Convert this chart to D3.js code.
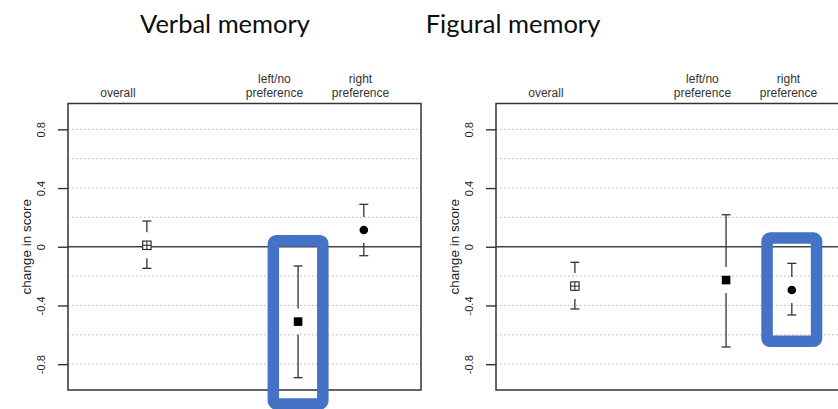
<!DOCTYPE html>
<html>
<head>
<meta charset="utf-8">
<script src="https://cdn.jsdelivr.net/npm/d3@7"></script>
<style>
  html, body { margin: 0; padding: 0; background: #fff; }
  svg { display: block; }
</style>
</head>
<body>
<svg id="chart" width="838" height="409"></svg>
<script>
// Panel titles and group labels
const panelTitles = ["Verbal memory", "Figural memory"];
const groupLines = [["overall"], ["left/no", "preference"], ["right", "preference"]];
const groupX = [1, 3.3, 4.3];          // x positions of the three groups
const groupLabelX = [0.56, 2.94, 4.25]; // x positions of the group captions
const markerShapes = ["boxplus", "square", "circle"];

// Mean change in score with confidence limits
const verbalMean  = [0.01, -0.51, 0.114];
const verbalLower = [-0.147, -0.892, -0.061];
const verbalUpper = [0.175, -0.131, 0.289];

const figuralMean  = [-0.268, -0.227, -0.295];
const figuralLower = [-0.424, -0.683, -0.465];
const figuralUpper = [-0.106, 0.218, -0.113];

// Group picked out with a frame in each panel
const highlighted = [1, 2];

const yTickValues = [-0.8, -0.4, 0, 0.4, 0.8];
const yTickLabels = ["-0.8", "-0.4", "0", "0.4", "0.8"];
const gridValues = [-0.8, -0.6, -0.4, -0.2, 0.2, 0.4, 0.6, 0.8];
const yLabel = "change in score";

const svg = d3.select("#chart");
svg.append("rect").attr("width", 838).attr("height", 409).attr("fill", "#fff");

const panels = [
  { title: panelTitles[0], mean: verbalMean, lo: verbalLower, hi: verbalUpper, hl: highlighted[0], left: 68, titleX: 225 },
  { title: panelTitles[1], mean: figuralMean, lo: figuralLower, hi: figuralUpper, hl: highlighted[1], left: 496, titleX: 513 }
];

const boxW = 353, boxTop = 103.5, boxBottom = 390;
const ink = "#333";
const gapPx = 13, capHalf = 4.5;

panels.forEach(p => {
  const x = d3.scaleLinear().domain([-0.2, 5.17]).range([p.left, p.left + boxW]);
  const y = d3.scaleLinear().domain([-0.976, 0.976]).range([boxBottom, boxTop]);
  const g = svg.append("g");

  // title
  svg.append("text")
    .attr("x", p.titleX).attr("y", 33)
    .attr("text-anchor", "middle")
    .attr("font-family", "Lato, 'Open Sans', sans-serif")
    .attr("font-size", 25.5)
    .attr("fill", "#0d0d0d")
    .text(p.title);

  // dotted grid
  g.selectAll("line.grid").data(gridValues).join("line")
    .attr("x1", p.left).attr("x2", p.left + boxW)
    .attr("y1", d => y(d)).attr("y2", d => y(d))
    .attr("stroke", "#b5b5b5").attr("stroke-width", 1)
    .attr("stroke-dasharray", "1.5,2.5");

  // zero reference line
  g.append("line")
    .attr("x1", p.left).attr("x2", p.left + boxW)
    .attr("y1", y(0)).attr("y2", y(0))
    .attr("stroke", "#444").attr("stroke-width", 1.3);

  // frame
  g.append("rect")
    .attr("x", p.left).attr("y", boxTop)
    .attr("width", boxW).attr("height", boxBottom - boxTop)
    .attr("fill", "none").attr("stroke", ink).attr("stroke-width", 1.5);

  // y axis
  const axis = d3.axisLeft(y).tickValues(yTickValues)
    .tickFormat((d, i) => yTickLabels[i]).tickSize(10).tickPadding(0);
  const ag = g.append("g").attr("transform", `translate(${p.left},0)`).call(axis);
  ag.select(".domain").remove();
  ag.selectAll(".tick line").attr("stroke", ink).attr("stroke-width", 1.4);
  ag.selectAll(".tick text")
    .attr("x", null).attr("dy", null)
    .attr("transform", "translate(-27.5,0) rotate(-90)")
    .attr("text-anchor", "middle")
    .attr("dominant-baseline", "central")
    .attr("font-family", "'Liberation Sans', Arial, sans-serif")
    .attr("font-size", 11)
    .attr("fill", "#222");

  g.append("text")
    .attr("transform", `translate(${p.left - 42},${y(0)}) rotate(-90)`)
    .attr("text-anchor", "middle")
    .attr("dominant-baseline", "central")
    .attr("font-family", "'Liberation Sans', Arial, sans-serif")
    .attr("font-size", 13.5)
    .attr("fill", "#222")
    .text(yLabel);

  // group captions above the frame
  groupLines.forEach((lines, i) => {
    lines.forEach((t, j) => {
      g.append("text")
        .attr("x", x(groupLabelX[i]))
        .attr("y", 96.7 - (lines.length - 1 - j) * 14)
        .attr("text-anchor", "middle")
        .attr("font-family", "'Liberation Sans', Arial, sans-serif")
        .attr("font-size", 12)
        .attr("fill", "#333")
        .text(t);
    });
  });

  // error bars with a gap around each point
  p.mean.forEach((m, i) => {
    const cx = x(groupX[i]), cy = y(m);
    [p.hi[i], p.lo[i]].forEach(lim => {
      const ly = y(lim);
      const dir = ly < cy ? -1 : 1;
      if (Math.abs(ly - cy) > gapPx) {
        g.append("line")
          .attr("x1", cx).attr("x2", cx)
          .attr("y1", cy + dir * gapPx).attr("y2", ly)
          .attr("stroke", ink).attr("stroke-width", 1.3);
      }
      g.append("line")
        .attr("x1", cx - capHalf).attr("x2", cx + capHalf)
        .attr("y1", ly).attr("y2", ly)
        .attr("stroke", ink).attr("stroke-width", 1.3);
    });

    const shape = markerShapes[i];
    if (shape === "circle") {
      g.append("circle").attr("cx", cx).attr("cy", cy).attr("r", 4.3).attr("fill", "#000");
    } else if (shape === "square") {
      g.append("rect").attr("x", cx - 4.3).attr("y", cy - 4.3)
        .attr("width", 8.6).attr("height", 8.6).attr("fill", "#000");
    } else {
      const s = 4.2;
      g.append("rect").attr("x", cx - s).attr("y", cy - s)
        .attr("width", 2 * s).attr("height", 2 * s)
        .attr("fill", "#fff").attr("stroke", "#222").attr("stroke-width", 1.1);
      g.append("line").attr("x1", cx - s).attr("x2", cx + s).attr("y1", cy).attr("y2", cy)
        .attr("stroke", "#222").attr("stroke-width", 1);
      g.append("line").attr("x1", cx).attr("x2", cx).attr("y1", cy - s).attr("y2", cy + s)
        .attr("stroke", "#222").attr("stroke-width", 1);
    }
  });

  // highlight frame around the selected group
  const hi = p.hl;
  const hx = x(groupX[hi]);
  const top = y(p.hi[hi]) - 31, bottom = y(p.lo[hi]) + 32;
  const sw = 11.5;
  svg.append("rect")
    .attr("x", hx - 30.5 + sw / 2).attr("y", top + sw / 2)
    .attr("width", 61 - sw).attr("height", bottom - top - sw)
    .attr("rx", 3).attr("ry", 3)
    .attr("fill", "none").attr("stroke", "#4472C4").attr("stroke-width", sw);
});
</script>
</body>
</html>
